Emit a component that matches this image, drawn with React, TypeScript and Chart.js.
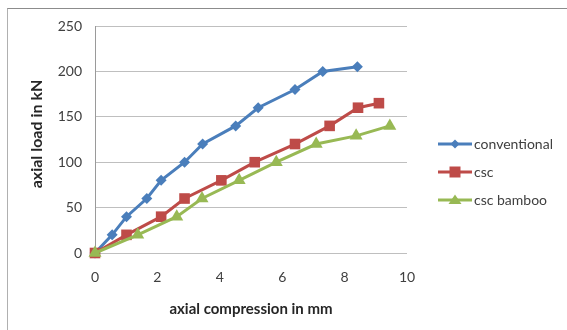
import React, { useEffect, useRef } from "react";
import { Chart, registerables } from "chart.js";

Chart.register(...registerables);

const seriesNames = ["conventional", "csc", "csc bamboo"];
const conventionalX = [0, 0.55, 1.01, 1.66, 2.12, 2.87, 3.45, 4.51, 5.23, 6.41, 7.3, 8.41];
const conventionalY = [0, 20, 40, 60, 80, 100, 120, 140, 160, 180, 200, 205];
const cscX = [0, 1.01, 2.12, 2.87, 4.05, 5.12, 6.41, 7.52, 8.43, 9.1];
const cscY = [0, 20, 40, 60, 80, 100, 120, 140, 160, 165];
const bambooX = [0, 1.37, 2.62, 3.43, 4.62, 5.81, 7.09, 8.37, 9.45];
const bambooY = [0, 20, 40, 60, 80, 100, 120, 129, 140];
const xTicks = [0, 2, 4, 6, 8, 10];
const yTicks = [0, 50, 100, 150, 200, 250];
const yTitle = "axial load in kN";
const xTitle = "axial compression in mm";

const colors = ["#4A7EBB", "#BE4B48", "#98B954"];
const pointStyles = ["rectRot", "rect", "triangle"];
const pointRadii = [5.5, 7.5, 7.5];

const FONT = "Lato, 'Open Sans', sans-serif";

const toPts = (xs: number[], ys: number[]) => xs.map((x, i) => ({ x, y: ys[i] }));

const legendPlugin = {
  id: "customLegend",
  afterDraw(chart: any) {
    const ctx = chart.ctx;
    const ys = [144, 172, 200];
    ctx.save();
    // y-axis title
    ctx.save();
    ctx.translate(37, 134);
    ctx.rotate(-Math.PI / 2);
    ctx.fillStyle = "#262626";
    ctx.font = `bold 16px ${FONT}`;
    ctx.textAlign = "center";
    ctx.textBaseline = "middle";
    ctx.fillText(yTitle, 0, 0);
    ctx.restore();
    chart.data.datasets.forEach((ds: any, i: number) => {
      const y = ys[i];
      ctx.strokeStyle = ds.borderColor;
      ctx.lineWidth = 3;
      ctx.beginPath();
      ctx.moveTo(438, y);
      ctx.lineTo(472, y);
      ctx.stroke();
      ctx.fillStyle = ds.backgroundColor;
      ctx.beginPath();
      if (ds.pointStyle === "rectRot") {
        const r = 4.5;
        ctx.moveTo(455, y - r);
        ctx.lineTo(455 + r, y);
        ctx.lineTo(455, y + r);
        ctx.lineTo(455 - r, y);
        ctx.closePath();
      } else if (ds.pointStyle === "rect") {
        const s = 5.5;
        ctx.rect(455 - s, y - s, 2 * s, 2 * s);
      } else {
        ctx.moveTo(455, y - 5.5);
        ctx.lineTo(455 + 6.5, y + 4);
        ctx.lineTo(455 - 6.5, y + 4);
        ctx.closePath();
      }
      ctx.fill();
      ctx.fillStyle = "#404040";
      ctx.font = `14px ${FONT}`;
      ctx.textBaseline = "middle";
      ctx.textAlign = "left";
      ctx.fillText(ds.label, 474, y);
    });
    ctx.restore();
  },
};

export default function App() {
  const ref = useRef<HTMLCanvasElement | null>(null);

  useEffect(() => {
    if (!ref.current) return;
    const sets = [
      toPts(conventionalX, conventionalY),
      toPts(cscX, cscY),
      toPts(bambooX, bambooY),
    ];
    const chart = new Chart(ref.current, {
      type: "scatter",
      data: {
        datasets: sets.map((d, i) => ({
          label: seriesNames[i],
          data: d,
          showLine: true,
          order: 3 - i,
          clip: false as any,
          borderColor: colors[i],
          backgroundColor: colors[i],
          borderWidth: 3,
          pointStyle: pointStyles[i] as any,
          pointRadius: pointRadii[i],
          pointBorderWidth: 0,
          pointBorderColor: colors[i],
          tension: 0,
        })),
      },
      options: {
        animation: false,
        responsive: false,
        layout: { padding: { top: 26, right: 160, left: 0, bottom: 0 } },
        plugins: {
          legend: { display: false },
          tooltip: { enabled: false },
        },
        scales: {
          x: {
            type: "linear",
            min: 0,
            max: 10,
            afterBuildTicks: (s: any) => {
              s.ticks = xTicks.map((v) => ({ value: v }));
            },
            afterFit: (s: any) => {
              s.height = 77;
            },
            grid: { display: false, drawTicks: false },
            border: { display: false },
            ticks: {
              padding: 16,
              color: "#404040",
              font: { family: FONT, size: 14 },
              maxRotation: 0,
            },
            title: {
              display: true,
              text: xTitle,
              color: "#262626",
              font: { family: FONT, size: 15, weight: "bold" },
              padding: { bottom: 12, top: 0 },
            },
          },
          y: {
            type: "linear",
            min: 0,
            max: 250,
            afterBuildTicks: (s: any) => {
              s.ticks = yTicks.map((v) => ({ value: v }));
            },
            afterFit: (s: any) => {
              s.width = 95;
            },
            grid: { color: "#BFBFBF", lineWidth: 1, drawTicks: false },
            border: { display: true, color: "#9A9A9A", width: 1 },
            ticks: {
              padding: 13,
              color: "#404040",
              font: { family: FONT, size: 14 },
            },
            title: { display: false },
          },
        },
      },
      plugins: [legendPlugin],
    });
    return () => chart.destroy();
  }, []);

  return (
    <div style={{ position: "fixed", left: 0, top: 0, width: 567, height: 330, background: "#fff" }}>
      <div
        style={{
          position: "absolute",
          left: 7,
          top: 8,
          right: -2,
          bottom: -2,
          borderTop: "1px solid #8C8C8C",
          borderLeft: "1px solid #B0B0B0",
        }}
      />
      <canvas ref={ref} width={567} height={330} style={{ position: "absolute", left: 0, top: 0 }} />
    </div>
  );
}
